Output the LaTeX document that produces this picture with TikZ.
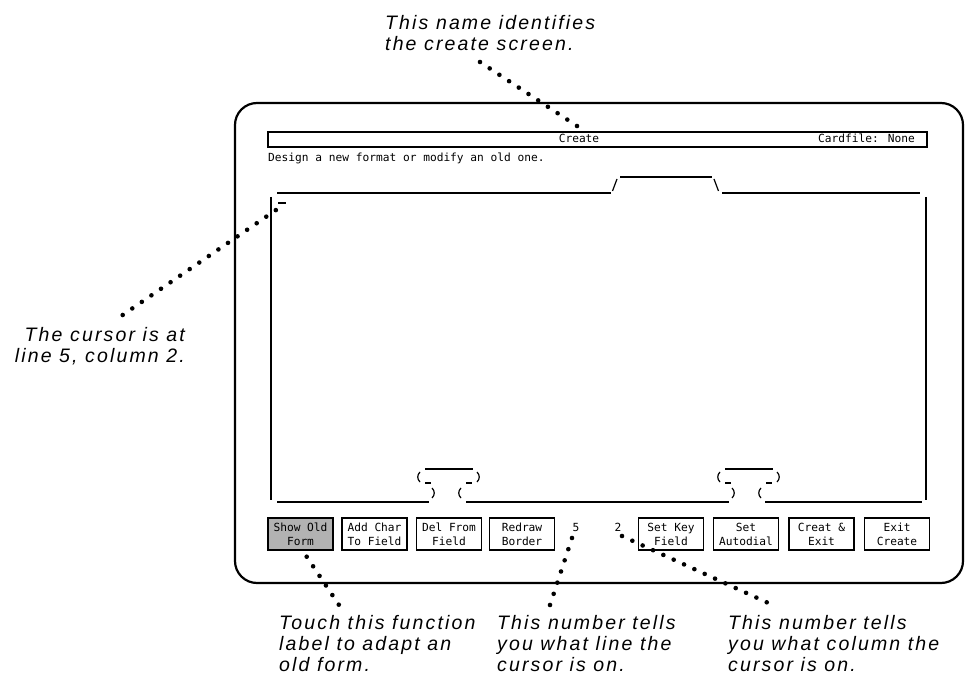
\documentclass[tikz,border=0pt]{standalone}
\usepackage{fontspec}
\setmainfont{Liberation Sans}
\newfontfamily\notefont{Liberation Sans}[LetterSpace=11]
\newfontfamily\screenfont{DejaVu Sans Mono}
\begin{document}
\begin{tikzpicture}[x=1pt,y=-1pt,
  frame/.style={line width=2.2pt, rounded corners=22pt},
  cardline/.style={line width=1.2pt},
  paren/.style={line width=1.2pt},
  note/.style={font=\notefont\itshape\fontsize{19.5}{21}\selectfont, inner sep=0pt, align=left, anchor=base west},
  scr/.style={font=\screenfont\fontsize{11.2}{14}\selectfont, inner sep=0pt},
  keybox/.style={draw, line width=1.3pt, minimum width=65pt, minimum height=32pt, align=center, inner sep=0pt,
    font=\screenfont\fontsize{11.2}{14}\selectfont},
  dotline/.style={line width=4.6pt, line cap=round, dash pattern=on 0pt off #1},
  dotline/.default=11.6pt]

\useasboundingbox (0,0) rectangle (967,684);

% terminal outline
\draw[frame] (235,103) rectangle (963,583);

% title bar
\draw[line width=1.5pt] (268,132) rectangle (927,147);
\node[scr, anchor=base] (title) at (579,143) {Create};
\node[scr, anchor=base east] (cardfile) at (915,143) {Cardfile: None};
\node[scr, anchor=base west] (prompt) at (268,162) {Design a new format or modify an old one.};

% card outline with index tab
\draw[cardline] (277,193) -- (611,193);
\draw[cardline] (612.5,191) -- (617,179);
\draw[cardline] (620,177) -- (712,177);
\draw[cardline] (714,179) -- (718.5,191);
\draw[cardline] (722,193) -- (920,193);
\draw[cardline] (271,197) -- (271,500);
\draw[cardline] (926,197) -- (926,500);

% cursor
\draw[cardline] (278,203) -- (286,203);
\coordinate (cursor) at (276,210);

% bottom edge with the two ring clips
\draw[cardline] (277,502) -- (429,502);
\draw[cardline] (466,502) -- (729,502);
\draw[cardline] (765,502) -- (922,502);
\foreach \cx in {0,300} {
  \begin{scope}[xshift=\cx]
    % clip top
    \draw[cardline] (425,469) -- (473,469);
    \draw[paren] (420,472) .. controls (417,475) and (417,479) .. (420,482);
    \draw[paren] (477,472) .. controls (480,475) and (480,479) .. (477,482);
    \draw[cardline] (425,483) -- (431,483);
    \draw[cardline] (466,483) -- (472,483);
    % clip neck
    \draw[paren] (432,488) .. controls (435,491) and (435,495) .. (432,498);
    \draw[paren] (461,488) .. controls (458,491) and (458,495) .. (461,498);
  \end{scope}
}

% function keys
\node[keybox, fill=black!30] (k1) at (300.5,534) {Show Old\\Form};
\node[keybox] (k2) at (374.5,534) {Add Char\\To Field};
\node[keybox] (k3) at (449,534) {Del From\\Field};
\node[keybox] (k4) at (522,534) {Redraw\\Border};
\node[scr, anchor=base] (line) at (576,531) {5};
\node[scr, anchor=base] (col) at (618,531) {2};
\node[keybox] (k5) at (671,534) {Set Key\\Field};
\node[keybox] (k6) at (746,534) {Set\\Autodial};
\node[keybox] (k7) at (821.5,534) {Creat \&\\Exit};
\node[keybox] (k8) at (897,534) {Exit\\Create};

% annotations (anchored on the baseline of their last line)
\node[note] (n1) at (385,51) {This name identifies\\the create screen.};
\node[note, anchor=base east, align=right] (n2) at (185,363) {The cursor is at\\line 5, column 2.};
\node[note] (n3) at (279,671) {Touch this function\\label to adapt an\\old form.};
\node[note] (n4) at (497,671) {This number tells\\you what line the\\cursor is on.};
\node[note] (n5) at (728,671) {This number tells\\you what column the\\cursor is on.};

% leader dots
\coordinate (a1) at (480,62);   \coordinate (b1) at (577,126);
\coordinate (a2) at (122.7,315);
\coordinate (a3) at (339,605);  \coordinate (b3) at (306.7,556.7);
\coordinate (a4) at (550,605);  \coordinate (b4) at (572,538);
\coordinate (a5) at (777,607);  \coordinate (b5) at (622,536);

\draw[dotline=11.62pt] (a1) -- (b1);
\draw[dotline=11.6pt] (a2) -- (cursor);
\draw[dotline=11.54pt] (b3) -- (a3);
\draw[dotline=11.75pt] (b4) -- (a4);
\draw[dotline=11.37pt] (b5) -- (a5);
\end{tikzpicture}
\end{document}
